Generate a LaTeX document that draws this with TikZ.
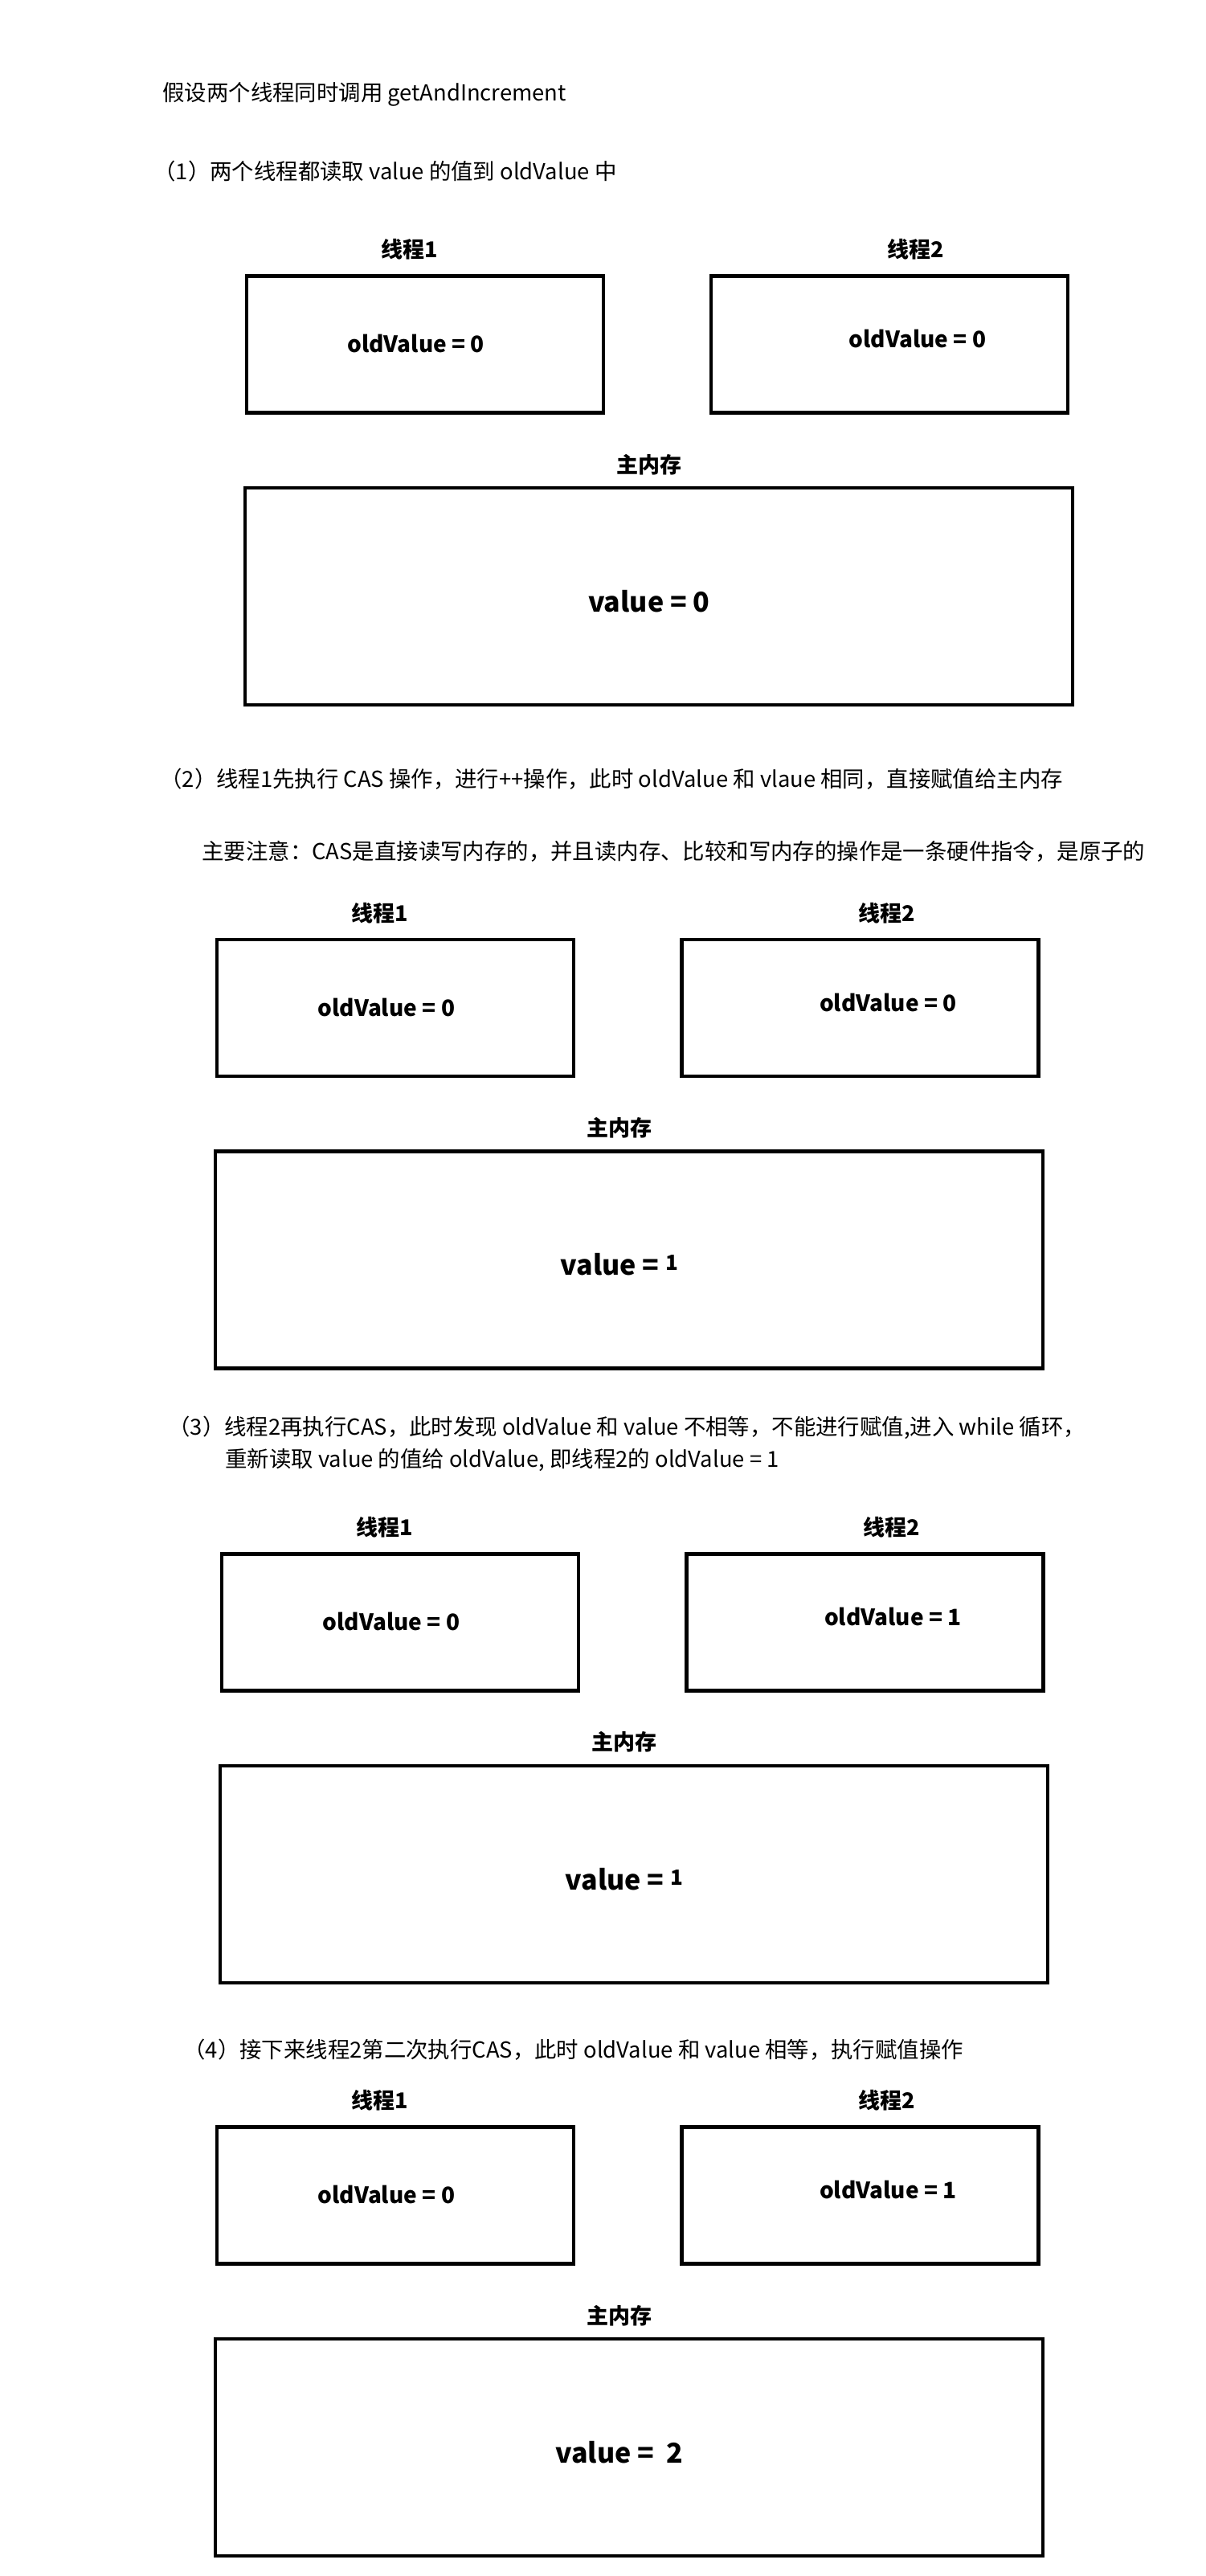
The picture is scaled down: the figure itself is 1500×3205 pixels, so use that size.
\documentclass[tikz,border=0pt]{standalone}
\usepackage{fontspec}
\setmainfont{Noto Sans CJK SC}
\usetikzlibrary{positioning}

% 主内存里略小的数字
\newcommand{\smallone}{\raisebox{3pt}{\fontsize{13}{13}\selectfont 1}}

\begin{document}
\begin{tikzpicture}[x=0.5pt, y=-0.5pt,
    txt/.style={anchor=west, inner sep=0pt, font=\fontsize{13.7}{17}\selectfont},
    head/.style={inner sep=0pt, font=\fontsize{13.5}{16}\selectfont\bfseries},
    box/.style={draw, line width=2.2pt, inner sep=0pt, minimum width=222pt, minimum height=85pt},
    membox/.style={box, minimum width=515pt, minimum height=135pt},
    oldv/.style={inner sep=0pt, font=\fontsize{14}{17}\selectfont\bfseries},
    memv/.style={inner sep=0pt, font=\fontsize{17}{20}\selectfont\bfseries}]
    \useasboundingbox (0,0) rectangle (1500,3205);

    % 说明文字
    \node[txt] (intro) at (202,117) {假设两个线程同时调用 getAndIncrement};
    \node[txt] (step1) at (191,213) {（1）两个线程都读取 value 的值到 oldValue 中};
    \node[txt] (step2) at (199,969) {（2）线程1先执行 CAS 操作，进行++操作，此时 oldValue 和 vlaue 相同，直接赋值给主内存};
    \node[txt] (note2) at (251,1059) {主要注意：CAS是直接读写内存的，并且读内存、比较和写内存的操作是一条硬件指令，是原子的};
    \node[txt] (step3a) at (209,1776) {（3）线程2再执行CAS，此时发现 oldValue 和 value 不相等，不能进行赋值,进入 while 循环，};
    \node[txt] (step3b) at (280,1817) {重新读取 value 的值给 oldValue, 即线程2的 oldValue = 1};
    \node[txt] (step4) at (228,2550) {（4）接下来线程2第二次执行CAS，此时 oldValue 和 value 相等，执行赋值操作};

    % 每一步的线程与主内存
    \foreach \s/\bx/\by/\oa/\ob/\mv in {1/304.5/341.3/0/0/0,
                                        2/267.7/1166.9/0/0/\smallone,
                                        3/273.8/1931.2/0/1/\smallone,
                                        4/267.7/2644.4/0/1/{\ 2}} {
        \node[box, anchor=north west] (t1-\s) at (\bx,\by) {};
        \node[box, right=65pt of t1-\s.north east, anchor=north west] (t2-\s) {};
        \node[membox, below right=44.5pt and -1pt of t1-\s.south west, anchor=north west] (mem-\s) {};

        \node[head] (h1-\s) at ([shift={(-19,-31)}]t1-\s.north) {线程1};
        \node[head] (h2-\s) at ([shift={(33,-31)}]t2-\s.north) {线程2};
        \node[head] (hm-\s) at ([shift={(-12,-27)}]mem-\s.north) {主内存};

        \node[oldv] (v1-\s) at ([shift={(-11,-1)}]t1-\s.center) {oldValue = \oa};
        \node[oldv] (v2-\s) at ([shift={(35,-7)}]t2-\s.center) {oldValue = \ob};
        \node[memv] (vm-\s) at ([shift={(-12,6)}]mem-\s.center) {value = \mv};
    }
\end{tikzpicture}
\end{document}
